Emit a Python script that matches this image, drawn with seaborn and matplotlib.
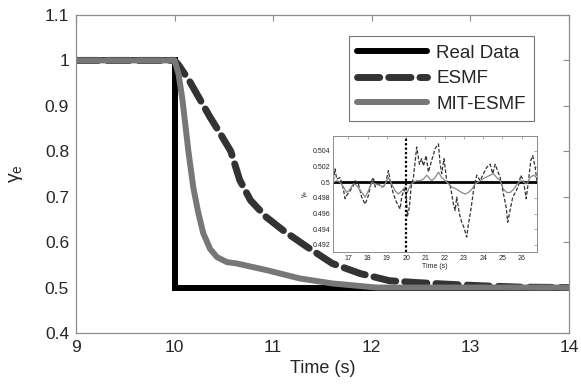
import matplotlib
matplotlib.use("Agg")
import matplotlib.pyplot as plt
import seaborn as sns
import pandas as pd
from matplotlib.ticker import FormatStrFormatter, FuncFormatter

sns.set_style("white")
plt.rcParams['font.family'] = ['Liberation Sans', 'DejaVu Sans']
plt.rcParams['mathtext.fontset'] = 'custom'
plt.rcParams['mathtext.rm'] = 'Liberation Sans'
plt.rcParams['mathtext.it'] = 'Liberation Sans'

# ---------------- main data ----------------
real_t = [9, 10, 10, 14]
real_v = [1, 1, 0.5, 0.5]

esmf_t = [9, 10.0, 10.04, 10.15, 10.26, 10.36, 10.46, 10.57, 10.66, 10.77, 10.93,
          11.1, 11.34, 11.6, 11.88, 12.18, 12.45, 12.8, 13.1, 13.5, 14]
esmf_v = [1, 1, 0.99, 0.955, 0.913, 0.875, 0.84, 0.80, 0.737, 0.692, 0.655,
          0.626, 0.59, 0.553, 0.531, 0.515, 0.511, 0.507, 0.504, 0.501, 0.5]

mit_t = [9, 10.0, 10.04, 10.08, 10.14, 10.19, 10.24, 10.29, 10.36, 10.43, 10.53,
         10.63, 10.94, 11.27, 11.6, 12.05, 14]
mit_v = [1, 1, 0.97, 0.913, 0.80, 0.72, 0.665, 0.62, 0.585, 0.567, 0.556,
         0.553, 0.538, 0.520, 0.509, 0.5, 0.5]

# ---------------- inset data ----------------
in_real_t = [16.2, 26.8]
in_real_v = [0.5, 0.5]

in_esmf_t = [16.22, 16.31, 16.39, 16.57, 16.74, 16.83, 16.91, 17.09, 17.26, 17.35,
             17.52, 17.69, 17.87, 18.04, 18.21, 18.30, 18.39, 18.56, 18.73, 18.91,
             19.08, 19.17, 19.34, 19.51, 19.69, 19.77, 19.89, 20.00, 20.07, 20.17,
             20.26, 20.38, 20.55, 20.69, 20.81, 20.90, 21.04, 21.16, 21.33, 21.51,
             21.68, 21.77, 21.85, 21.97, 22.11, 22.29, 22.46, 22.55, 22.63, 22.77,
             22.89, 23.01, 23.15, 23.24, 23.36, 23.50, 23.67, 23.85, 24.02, 24.19,
             24.37, 24.50, 24.63, 24.75, 24.89, 25.06, 25.20, 25.28, 25.40, 25.54,
             25.72, 25.84, 25.96, 26.10, 26.24, 26.36, 26.48, 26.58, 26.71, 26.79]
in_esmf_v = [0.5002, 0.5017, 0.5004, 0.5006, 0.4991, 0.4979, 0.4983, 0.4989, 0.4996, 0.5002,
             0.4998, 0.4981, 0.4972, 0.4983, 0.5002, 0.5006, 0.4994, 0.4998, 0.4994, 0.4996,
             0.5015, 0.5002, 0.4985, 0.4974, 0.4966, 0.4981, 0.4991, 0.4985, 0.4957, 0.4968,
             0.4994, 0.5006, 0.5045, 0.5023, 0.5030, 0.5021, 0.5034, 0.5013, 0.5028, 0.5043,
             0.5049, 0.5023, 0.5011, 0.5030, 0.5002, 0.4996, 0.4972, 0.4964, 0.4981, 0.4960,
             0.4949, 0.4942, 0.4930, 0.4947, 0.4964, 0.4989, 0.5009, 0.5002, 0.5011, 0.5019,
             0.5023, 0.5011, 0.5023, 0.5015, 0.5006, 0.4985, 0.4968, 0.4949, 0.4964, 0.4981,
             0.4989, 0.4996, 0.5009, 0.5002, 0.4979, 0.5002, 0.5028, 0.5034, 0.5019, 0.5002]

in_mit_t = [16.22, 16.39, 16.57, 16.74, 16.91, 17.09, 17.26, 17.43, 17.69, 17.87,
            18.04, 18.21, 18.39, 18.65, 18.82, 19.08, 19.25, 19.43, 19.60, 19.77,
            19.95, 20.07, 20.21, 20.38, 20.55, 20.73, 20.90, 21.07, 21.33, 21.51,
            21.68, 21.85, 22.03, 22.20, 22.37, 22.63, 22.89, 23.07, 23.24, 23.41,
            23.59, 23.85, 24.11, 24.37, 24.54, 24.71, 24.89, 25.06, 25.23, 25.41,
            25.58, 25.84, 26.01, 26.27, 26.44, 26.62, 26.79]
in_mit_v = [0.5000, 0.5002, 0.5000, 0.4994, 0.4987, 0.4991, 0.4998, 0.4996, 0.4987, 0.4981,
            0.4989, 0.5000, 0.4998, 0.4996, 0.4994, 0.5006, 0.4998, 0.4989, 0.4985, 0.4989,
            0.4994, 0.4987, 0.4996, 0.5000, 0.5002, 0.5002, 0.5004, 0.5009, 0.5002, 0.5006,
            0.5013, 0.5006, 0.5002, 0.4998, 0.4994, 0.4991, 0.4987, 0.4985, 0.4987, 0.4991,
            0.4998, 0.5002, 0.5006, 0.5009, 0.5011, 0.5006, 0.5002, 0.4991, 0.4987, 0.4987,
            0.4991, 0.5000, 0.5002, 0.4998, 0.5006, 0.5009, 0.5006]

marker_t = [20, 20]
marker_v = [0.4911, 0.5059]

C_REAL = "#000000"
C_ESMF = "#333333"
C_MIT = "#777777"
C_AX = "#8c8c8c"

fig = plt.figure(figsize=(5.81, 3.90), dpi=100)
ax = fig.add_axes([0.1308, 0.1462, 0.8485, 0.8154])

sns.lineplot(x=real_t, y=real_v, ax=ax, color=C_REAL, lw=4.3, sort=False,
             estimator=None, label="Real Data", solid_joinstyle='miter')
sns.lineplot(x=esmf_t, y=esmf_v, ax=ax, color=C_ESMF, lw=5.0, sort=False,
             estimator=None, label="ESMF")
ax.lines[-1].set_dashes([3.2, 1.3])
ax.lines[-1].set_dash_capstyle('round')
sns.lineplot(x=mit_t, y=mit_v, ax=ax, color=C_MIT, lw=4.3, sort=False,
             estimator=None, label="MIT-ESMF")

ax.set_xlim(9, 14)
ax.set_ylim(0.4, 1.1)
ax.set_xticks([9, 10, 11, 12, 13, 14])
ax.set_yticks([0.4, 0.5, 0.6, 0.7, 0.8, 0.9, 1.0, 1.1])
ax.yaxis.set_major_formatter(FuncFormatter(lambda v, p: f"{v:g}"))
ax.tick_params(direction='in', length=4, width=0.8, color=C_AX, labelsize=12.5,
               top=True, right=True, pad=5)
for s in ax.spines.values():
    s.set_color(C_AX)
    s.set_linewidth(0.9)
ax.set_xlabel("Time (s)", fontsize=13, labelpad=4)
ax.set_ylabel(r"$\gamma_\mathrm{e}$", fontsize=14, labelpad=14)

leg = ax.legend(loc='upper left', bbox_to_anchor=(0.6007, 0.9077),
                bbox_transform=fig.transFigure, fontsize=13.5, frameon=True,
                fancybox=False, handlelength=3.7, borderpad=0.45,
                labelspacing=0.45, handletextpad=0.5, borderaxespad=0)
leg.get_frame().set_edgecolor("#555555")
leg.get_frame().set_linewidth(0.8)

# ---------------- inset ----------------
ins = fig.add_axes([0.5731, 0.3538, 0.3511, 0.2974])
sns.lineplot(x=in_real_t, y=in_real_v, ax=ins, color=C_REAL, lw=2.0, sort=False,
             estimator=None)
sns.lineplot(x=in_esmf_t, y=in_esmf_v, ax=ins, color="#333333", lw=0.9, sort=False,
             estimator=None)
ins.lines[-1].set_dashes([3, 1.5])
sns.lineplot(x=in_mit_t, y=in_mit_v, ax=ins, color="#888888", lw=0.9, sort=False,
             estimator=None)
sns.lineplot(x=marker_t, y=marker_v, ax=ins, color="#000000", lw=1.6, sort=False,
             estimator=None)
ins.lines[-1].set_dashes([1, 1])

ins.set_xlim(16.2, 26.8)
ins.set_ylim(0.4911, 0.5059)
ins.set_xticks(list(range(17, 27)))
ins.set_yticks([0.492, 0.494, 0.496, 0.498, 0.5, 0.502, 0.504])
ins.yaxis.set_major_formatter(FuncFormatter(lambda v, p: f"{round(v, 3):g}"))
ins.tick_params(direction='in', length=2, width=0.5, color=C_AX, labelsize=5,
                top=True, right=True, pad=2)
for s in ins.spines.values():
    s.set_color(C_AX)
    s.set_linewidth(0.7)
ins.set_xlabel("Time (s)", fontsize=5, labelpad=1)
ins.set_ylabel(r"$\gamma_\mathrm{e}$", fontsize=5, labelpad=2)

fig.savefig("out.png", dpi=100)
